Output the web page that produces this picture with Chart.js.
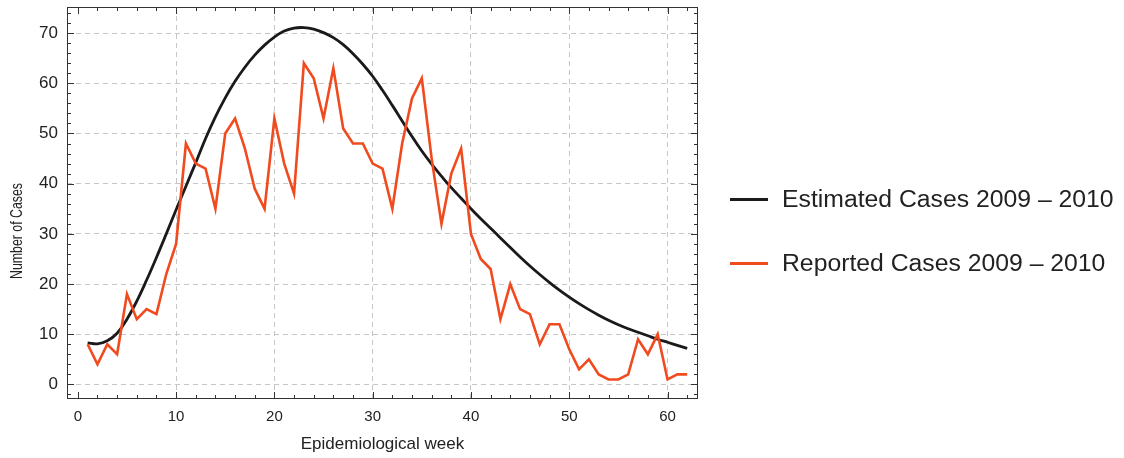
<!DOCTYPE html>
<html>
<head>
<meta charset="utf-8">
<script src="https://cdn.jsdelivr.net/npm/chart.js@4.4.1/dist/chart.umd.min.js"></script>
<style>
  body { margin: 0; background: #fff; }
  #wrap { position: relative; width: 1124px; height: 458px; }
  #legend { position: absolute; left: 730px; top: 0; font-family: 'Liberation Sans', Arial, sans-serif; font-size: 24.75px; color: #222; }
  .item { position: absolute; left: 0; display: flex; align-items: center; white-space: nowrap; }
  .swatch { width: 38px; height: 3px; margin-right: 14px; }
</style>
</head>
<body>
<div id="wrap">
  <canvas id="epi" width="1124" height="458"></canvas>
  <div id="legend">
    <div class="item" style="top:185px"><span class="swatch" style="background:#1a1a1a"></span>Estimated Cases 2009 – 2010</div>
    <div class="item" style="top:249px"><span class="swatch" style="background:#f04a1e"></span>Reported Cases 2009 – 2010</div>
  </div>
</div>
<script>
var weeks = [1, 2, 3, 4, 5, 6, 7, 8, 9, 10, 11, 12, 13, 14, 15, 16, 17, 18, 19, 20,
  21, 22, 23, 24, 25, 26, 27, 28, 29, 30, 31, 32, 33, 34, 35, 36, 37, 38, 39, 40,
  41, 42, 43, 44, 45, 46, 47, 48, 49, 50, 51, 52, 53, 54, 55, 56, 57, 58, 59, 60, 61, 62];

var reported = [8, 4, 8, 6, 18, 13, 15, 14, 22, 28, 48, 44, 43, 35, 50, 53, 47, 39, 35, 53,
  44, 38, 64, 61, 53, 63, 51, 48, 48, 44, 43, 35, 48, 57, 61, 45, 32, 42, 47, 30,
  25, 23, 13, 20, 15, 14, 8, 12, 12, 7, 3, 5, 2, 1, 1, 2, 9, 6, 10, 1, 2, 2];

var estimated = [8.3, 8.1, 8.7, 10.2, 13.0, 16.6, 20.8, 25.3, 30.0, 34.8, 39.5, 44.2, 49.0, 53.3, 57.1, 60.4, 63.2, 65.6, 67.6, 69.2,
  70.4, 71.0, 71.1, 70.8, 70.1, 69.1, 67.7, 65.9, 63.8, 61.4, 58.6, 55.6, 52.5, 49.4, 46.5, 43.9, 41.5, 39.2, 37.1, 35.0,
  33.0, 31.1, 29.2, 27.3, 25.4, 23.6, 21.9, 20.3, 18.8, 17.4, 16.1, 14.9, 13.8, 12.8, 11.9, 11.1, 10.4, 9.7, 9.0, 8.4, 7.8, 7.2];

var xTicks = [0, 10, 20, 30, 40, 50, 60];
var yTicks = [0, 10, 20, 30, 40, 50, 60, 70];

function pairs(ys) {
  return weeks.map(function (w, i) { return { x: w, y: ys[i] }; });
}

// frame with inward ticks, plus the y title
var frame = {
  id: 'frame',
  afterDraw: function (chart) {
    var ctx = chart.ctx, a = chart.chartArea;
    var xs = chart.scales.x, ys = chart.scales.y;
    ctx.save();
    ctx.strokeStyle = '#333';
    ctx.lineWidth = 1;
    ctx.strokeRect(a.left + 0.5, a.top + 0.5, a.right - a.left - 1, a.bottom - a.top - 1);
    ctx.beginPath();
    for (var v = 0; v <= 62; v += 2) {
      var px = Math.round(xs.getPixelForValue(v)) + 0.5;
      var len = v % 10 === 0 ? 7 : 4;
      ctx.moveTo(px, a.bottom); ctx.lineTo(px, a.bottom - len);
      ctx.moveTo(px, a.top); ctx.lineTo(px, a.top + len);
    }
    for (var u = -2; u <= 74; u += 2) {
      var py = Math.round(ys.getPixelForValue(u)) + 0.5;
      var l2 = u % 10 === 0 ? 7 : 4;
      ctx.moveTo(a.left, py); ctx.lineTo(a.left + l2, py);
      ctx.moveTo(a.right, py); ctx.lineTo(a.right - l2, py);
    }
    ctx.stroke();

    ctx.translate(18, 231);
    ctx.rotate(-Math.PI / 2);
    ctx.scale(0.77, 1);
    ctx.fillStyle = '#222';
    ctx.font = "16px 'Liberation Sans', Arial, sans-serif";
    ctx.textAlign = 'center';
    ctx.textBaseline = 'middle';
    ctx.fillText('Number of Cases', 0, 0);
    ctx.restore();
  }
};

var epi = document.getElementById('epi');
var epiChart = new Chart(epi, {
  type: 'line',
  data: {
    datasets: [{
      label: 'Reported Cases 2009 – 2010',
      data: pairs(reported),
      borderColor: '#f04a1e',
      borderWidth: 2.6,
      pointRadius: 0,
      tension: 0,
      order: 0
    }, {
      label: 'Estimated Cases 2009 – 2010',
      data: pairs(estimated),
      borderColor: '#1a1a1a',
      borderWidth: 2.8,
      pointRadius: 0,
      tension: 0.4,
      order: 1
    }]
  },
  options: {
    responsive: false,
    animation: false,
    layout: { padding: { top: 7, right: 426, left: 0, bottom: 0 } },
    plugins: {
      legend: { display: false },
      tooltip: { enabled: false }
    },
    scales: {
      x: {
        type: 'linear',
        min: -1.1,
        max: 63.1,
        afterFit: function (s) { s.height = 59; s.paddingLeft = 0; s.paddingRight = 0; },
        afterBuildTicks: function (s) { s.ticks = xTicks.map(function (v) { return { value: v }; }); },
        ticks: {
          padding: 9,
          color: '#222',
          font: { family: "'Liberation Sans', Arial, sans-serif", size: 15 }
        },
        grid: {
          drawTicks: false,
          color: function (c) { return c.tick && c.tick.value === 0 ? 'rgba(0,0,0,0)' : '#c6c6c6'; }
        },
        border: { display: false, dash: [5, 4] },
        title: {
          display: true,
          text: 'Epidemiological week',
          color: '#222',
          font: { family: "'Liberation Sans', Arial, sans-serif", size: 17 },
          padding: { top: 0, bottom: 3 }
        }
      },
      y: {
        min: -2.9,
        max: 75.2,
        afterFit: function (s) { s.width = 67; s.paddingTop = 0; s.paddingBottom = 0; },
        afterBuildTicks: function (s) { s.ticks = yTicks.map(function (v) { return { value: v }; }); },
        ticks: {
          padding: 9,
          color: '#222',
          font: { family: "'Liberation Sans', Arial, sans-serif", size: 17 }
        },
        grid: { drawTicks: false, color: '#c6c6c6' },
        border: { display: false, dash: [5, 4] }
      }
    }
  },
  plugins: [frame]
});
</script>
</body>
</html>
